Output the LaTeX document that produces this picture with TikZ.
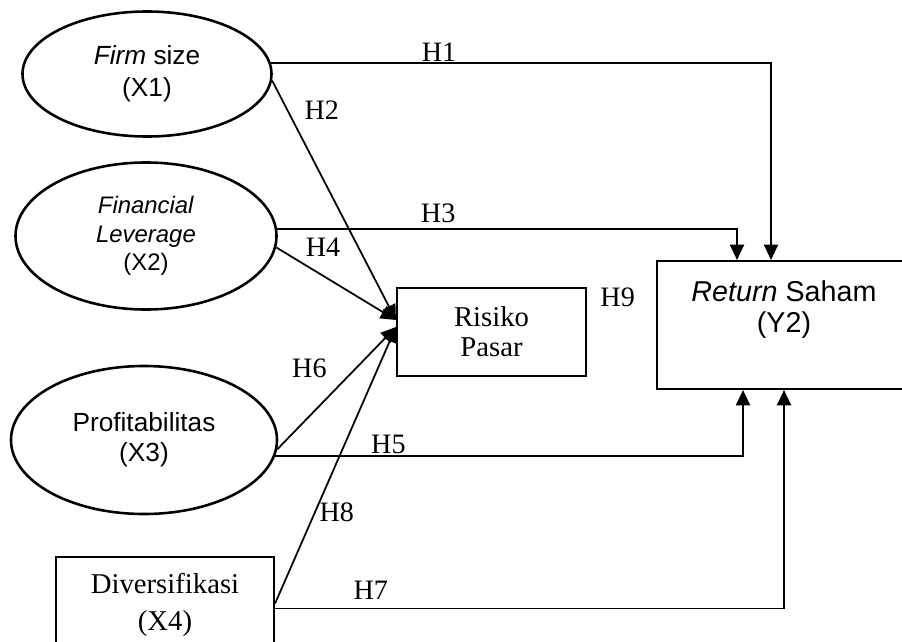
\documentclass[tikz,border=0pt]{standalone}
\usepackage{fontspec}
\setmainfont{Liberation Serif}
\setsansfont{Liberation Sans}
\usetikzlibrary{positioning,arrows.meta,shapes.geometric}

\begin{document}
\begin{tikzpicture}[x=0.03cm, y=-0.03cm, every node/.style={font=\fontsize{24}{28}\selectfont}]
\tikzstyle{var}=[ellipse, draw=black, line width=2.2pt, inner sep=0pt, align=center, font=\sffamily\fontsize{22.4}{27}\selectfont]
\tikzstyle{box}=[rectangle, draw=black, line width=1.8pt, align=center]
\tikzstyle{hyp}=[font=\fontsize{24}{28}\selectfont, inner sep=1pt]
\tikzstyle{arr}=[-{Triangle[length=13pt,width=12pt]}, line width=1.5pt]
\useasboundingbox (0,0) rectangle (902,641);

% exogenous variables
\node[var, minimum width=7.47cm, minimum height=3.75cm] (firm) at (147,74) {\textit{Firm} size\\(X1)};
\node[var, minimum width=7.83cm, minimum height=4.41cm, font=\sffamily\fontsize{20.4}{24.5}\selectfont] (lev) at (146,236) {\textit{Financial}\\\textit{Leverage}\\(X2)};
\node[var, minimum width=7.98cm, minimum height=4.44cm, font=\sffamily\fontsize{22.4}{25.6}\selectfont] (prof) at (144,440) {Profitabilitas\\(X3)};
\node[box, minimum width=6.54cm, minimum height=3.09cm] (div) at (165,608.5) {};
\node[hyp, align=center, font=\fontsize{24.5}{31.6}\selectfont, below=0.48cm of div.north] (divt) {Diversifikasi\\(X4)};

% mediator and outcome
\node[box, minimum width=5.67cm, minimum height=2.64cm, font=\fontsize{24.5}{25.6}\selectfont] (risk) at (491.5,332) {Risiko\\Pasar};
\node[box, minimum width=7.62cm, minimum height=3.84cm] (ret) at (784,325) {};
\node[hyp, align=center, font=\sffamily\fontsize{24.5}{27}\selectfont, below=0.57cm of ret.north] (rett) {\textit{Return} Saham\\(Y2)};
\node[hyp, below right=0cm and 0.36cm of risk.north east] (h9) {H9};

% direct paths
\draw[arr] (firm.5) -| node[hyp, pos=0.168, above]{H1} ([xshift=-0.39cm]ret.north);
\draw[arr] (lev.3) -| node[hyp, pos=0.175, above=0.14cm]{H3} ([xshift=-1.41cm]ret.north);
\draw[arr] (prof.-7.5) -| node[hyp, pos=0.121, above]{H5} ([xshift=-1.23cm]ret.south);
\draw[arr] (div.east) -| node[hyp, pos=0.094, above=0.2cm]{H7} (ret.south);

% paths to risiko pasar
\draw[arr] (firm.-3) -- node[hyp, pos=0.125, right=0.45cm]{H2} ([yshift=0.36cm]risk.west);
\draw[arr] (lev.-5) -- node[hyp, pos=0.39, above=0.5cm]{H4} ([yshift=0.36cm]risk.west);
\draw[arr] (prof.-4) -- node[hyp, pos=0.666, left=0.83cm]{H6} ([yshift=0.15cm]risk.west);
\draw[arr] ([yshift=0.15cm]div.east) -- node[hyp, pos=0.33, right=0.08cm]{H8} ([yshift=0.15cm]risk.west);
\end{tikzpicture}
\end{document}
